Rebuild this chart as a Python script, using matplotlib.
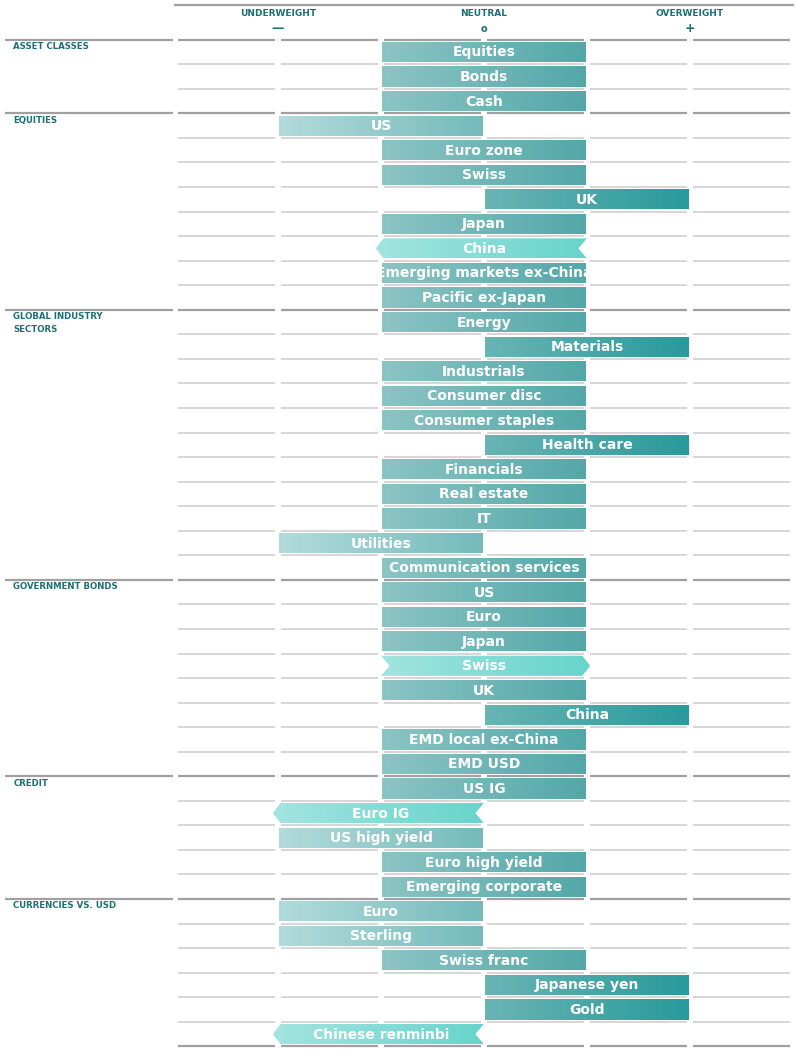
import numpy as np
import matplotlib.pyplot as plt
from matplotlib.patches import Polygon
from matplotlib.colors import LinearSegmentedColormap

# sections and rows; value -1 underweight, 0 neutral, 1 overweight
sections = ['ASSET CLASSES', 'EQUITIES', 'GLOBAL INDUSTRY\nSECTORS', 'GOVERNMENT BONDS', 'CREDIT', 'CURRENCIES VS. USD']
section_rows = [
    ['Equities', 'Bonds', 'Cash'],
    ['US', 'Euro zone', 'Swiss', 'UK', 'Japan', 'China', 'Emerging markets ex-China', 'Pacific ex-Japan'],
    ['Energy', 'Materials', 'Industrials', 'Consumer disc', 'Consumer staples', 'Health care',
     'Financials', 'Real estate', 'IT', 'Utilities', 'Communication services'],
    ['US', 'Euro', 'Japan', 'Swiss', 'UK', 'China', 'EMD local ex-China', 'EMD USD'],
    ['US IG', 'Euro IG', 'US high yield', 'Euro high yield', 'Emerging corporate'],
    ['Euro', 'Sterling', 'Swiss franc', 'Japanese yen', 'Gold', 'Chinese renminbi'],
]
section_values = [
    [0, 0, 0],
    [-1, 0, 0, 1, 0, 0, 0, 0],
    [0, 1, 0, 0, 0, 1, 0, 0, 0, -1, 0],
    [0, 0, 0, 0, 0, 1, 0, 0],
    [0, -1, -1, 0, 0],
    [-1, -1, 0, 1, 1, -1],
]
# change markers: 'down' = moved down (left arrow), 'up' = moved up (right arrow)
changes = {('EQUITIES', 'China'): 'down', ('GOVERNMENT BONDS', 'Swiss'): 'up',
           ('CREDIT', 'Euro IG'): 'down', ('CURRENCIES VS. USD', 'Chinese renminbi'): 'down'}
headers = ['UNDERWEIGHT', 'NEUTRAL', 'OVERWEIGHT']
header_marks = ['—', 'o', '+']

teal = '#1d6f74'
cmaps = {
    -1: LinearSegmentedColormap.from_list('u', ['#b5dcdc', '#74b9ba']),
    0: LinearSegmentedColormap.from_list('n', ['#8ec5c5', '#52a7a8']),
    1: LinearSegmentedColormap.from_list('o', ['#6cb5b5', '#27999a']),
    'chg': LinearSegmentedColormap.from_list('c', ['#a3e4e0', '#66d4cb']),
}

fig = plt.figure(figsize=(7.97, 10.51), dpi=100)
ax = fig.add_axes([0, 0, 1, 1])
ax.set_xlim(-4.699, 3.039)
ax.set_ylim(40.69, -2.118)
ax.axis('off')

h = 0.41
d = 0.075
gap = 0.025

def seg_line(y, x0, lw, color):
    for k in range(int(x0), 3):
        ax.plot([k + gap, k + 1 - gap], [y, y], color=color, lw=lw, solid_capstyle='butt')

# header
ax.plot([-3, 3], [-1.91, -1.91], color='#a0a0a0', lw=1.6)
for k, (hd, mk) in enumerate(zip(headers, header_marks)):
    xc = -2 + 2 * k
    ax.text(xc, -1.55, hd, ha='center', va='center', fontsize=6.5, fontweight='bold', color=teal, family='DejaVu Sans Condensed')
    ax.text(xc, -0.95, mk, ha='center', va='center', fontsize=9 if mk != 'o' else 7, color=teal, fontweight='bold')

i = 0
for sec, rows, vals in zip(sections, section_rows, section_values):
    ax.plot([-4.65, -3.02], [i - 0.5, i - 0.5], color='#a0a0a0', lw=1.6, solid_capstyle='butt')
    seg_line(i - 0.5, -3, 1.6, '#a0a0a0')
    ax.text(-4.57, i - 0.4, sec, ha='left', va='top', fontsize=6.2, fontweight='bold', color=teal,
            family='DejaVu Sans Condensed', linespacing=1.6)
    for j, (name, v) in enumerate(zip(rows, vals)):
        y = i + j
        if j > 0:
            seg_line(y - 0.5, -3, 1.2, '#cfcfcf')
        x0, x1 = v - 1, v + 1
        chg = changes.get((sec, name))
        if chg == 'down':
            pts = [(x0 - 0.05, y), (x0 + d - 0.05, y - h), (x1, y - h), (x1 - d, y), (x1, y + h), (x0 + d - 0.05, y + h)]
        elif chg == 'up':
            pts = [(x0, y - h), (x1 - d + 0.03, y - h), (x1 + 0.03, y), (x1 - d + 0.03, y + h), (x0, y + h), (x0 + d, y)]
        else:
            pts = [(x0 + 0.01, y - h), (x1 - 0.01, y - h), (x1 - 0.01, y + h), (x0 + 0.01, y + h)]
        poly = Polygon(pts, closed=True, facecolor='none', edgecolor='none')
        ax.add_patch(poly)
        im = ax.imshow(np.linspace(0, 1, 100).reshape(1, -1), cmap=cmaps['chg' if chg else v],
                       extent=(x0 - 0.06, x1 + 0.04, y + h, y - h), aspect='auto', zorder=2)
        im.set_clip_path(poly)
        if chg == 'down':
            ax.plot([x1 + 0.0, x1 - d + 0.0, x1 + 0.0], [y - h + 0.05, y, y + h - 0.05], color='white', lw=1, zorder=3)
        elif chg == 'up':
            ax.plot([x0 + 0.0, x0 + d, x0 + 0.0], [y - h + 0.05, y, y + h - 0.05], color='white', lw=1, zorder=3)
        ax.text(v, y + 0.02, name, ha='center', va='center', fontsize=10, fontweight='bold', color='white',
                family='DejaVu Sans Condensed', zorder=4)
    i += len(rows)

seg_line(i - 0.5, -3, 1.6, '#a0a0a0')

fig.savefig('out.png', dpi=100)
